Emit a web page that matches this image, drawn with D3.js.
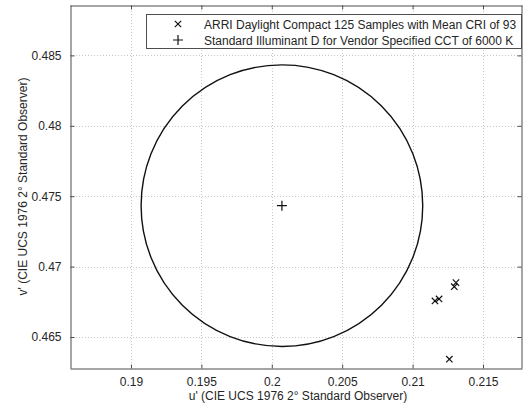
<!DOCTYPE html>
<html>
<head>
<meta charset="utf-8">
<script src="https://cdn.jsdelivr.net/npm/d3@7"></script>
<style>
  html, body { margin: 0; padding: 0; background: #fff; }
  svg { display: block; }
  text { font-family: "Liberation Sans", Arial, sans-serif; }
</style>
</head>
<body>
<svg id="chart" width="523" height="406"></svg>
<script>
// ---- data ----
const xTicks = [0.19, 0.195, 0.2, 0.205, 0.21, 0.215];
const xTickLabels = ["0.19", "0.195", "0.2", "0.205", "0.21", "0.215"];
const yTicks = [0.465, 0.47, 0.475, 0.48, 0.485];
const yTickLabels = ["0.465", "0.47", "0.475", "0.48", "0.485"];
const sampleU = [0.21159, 0.21188, 0.21296, 0.21308, 0.21261];
const sampleV = [0.46756, 0.46770, 0.46857, 0.46886, 0.46342];
const illumU = [0.20072];
const illumV = [0.47433];
const circleRadius = [0.0100];
const legendLabels = [
  "ARRI Daylight Compact 125 Samples with Mean CRI of 93",
  "Standard Illuminant D for Vendor Specified CCT of 6000 K"
];
const xLabel = "u' (CIE UCS 1976 2° Standard Observer)";
const yLabel = "v' (CIE UCS 1976 2° Standard Observer)";

// ---- layout ----
const L = 70, R = 522, T = 5, B = 368;
const svg = d3.select("#chart");
const x = d3.scaleLinear().domain([0.18567, 0.21777]).range([L, R]);
const y = d3.scaleLinear().domain([0.462798, 0.48858]).range([B, T]);

const frameColor = "#4d4d4d";
const textColor = "#262626";

// grid
const grid = svg.append("g");
grid.selectAll("line.gx").data(xTicks).enter().append("line")
  .attr("x1", d => Math.round(x(d)) + 0.5).attr("x2", d => Math.round(x(d)) + 0.5)
  .attr("y1", T).attr("y2", B)
  .attr("stroke", "#c8c8c8").attr("stroke-width", 1).attr("stroke-dasharray", "1,2");
grid.selectAll("line.gy").data(yTicks).enter().append("line")
  .attr("y1", d => Math.round(y(d)) + 0.5).attr("y2", d => Math.round(y(d)) + 0.5)
  .attr("x1", L).attr("x2", R)
  .attr("stroke", "#c8c8c8").attr("stroke-width", 1).attr("stroke-dasharray", "1,2");

// circle
svg.append("ellipse")
  .attr("cx", x(illumU[0])).attr("cy", y(illumV[0]))
  .attr("rx", x(illumU[0] + circleRadius[0]) - x(illumU[0]))
  .attr("ry", y(illumV[0]) - y(illumV[0] + circleRadius[0]))
  .attr("fill", "none").attr("stroke", "#111").attr("stroke-width", 1.4);

// markers
function crossPath(cx, cy, s) {
  return `M${cx - s},${cy - s}L${cx + s},${cy + s}M${cx - s},${cy + s}L${cx + s},${cy - s}`;
}
function plusPath(cx, cy, s) {
  return `M${cx - s},${cy}L${cx + s},${cy}M${cx},${cy - s}L${cx},${cy + s}`;
}
const samples = sampleU.map((u, i) => ({u, v: sampleV[i]}));
svg.selectAll("path.sample").data(samples).enter().append("path")
  .attr("d", d => crossPath(x(d.u), y(d.v), 3.2))
  .attr("stroke", "#111").attr("stroke-width", 1.2).attr("fill", "none");
const illum = illumU.map((u, i) => ({u, v: illumV[i]}));
svg.selectAll("path.illum").data(illum).enter().append("path")
  .attr("d", d => plusPath(x(d.u), y(d.v), 5))
  .attr("stroke", "#111").attr("stroke-width", 1.2).attr("fill", "none");

// axes frame
const axisG = svg.append("g");
const xAxisB = d3.axisBottom(x).tickValues(xTicks).tickFormat((d, i) => xTickLabels[i]).tickSizeInner(-4).tickSizeOuter(0).tickPadding(9);
const xAxisT = d3.axisTop(x).tickValues(xTicks).tickFormat("").tickSizeInner(-4).tickSizeOuter(0);
const yAxisL = d3.axisLeft(y).tickValues(yTicks).tickFormat((d, i) => yTickLabels[i]).tickSizeInner(-4).tickSizeOuter(0).tickPadding(9);
const yAxisR = d3.axisRight(y).tickValues(yTicks).tickFormat("").tickSizeInner(-4).tickSizeOuter(0);

function style(g) {
  g.selectAll(".domain").attr("stroke", frameColor).attr("stroke-width", 1);
  g.selectAll(".tick line").attr("stroke", frameColor);
  g.selectAll(".tick text").attr("fill", textColor).style("font-size", "12px").style("font-family", "'Liberation Sans', Arial, sans-serif");
}
axisG.append("g").attr("transform", `translate(0,${B + 0.5})`).call(xAxisB).call(style);
axisG.append("g").attr("transform", `translate(0,${T + 0.5})`).call(xAxisT).call(style);
axisG.append("g").attr("transform", `translate(${L + 0.5},0)`).call(yAxisL).call(style);
axisG.append("g").attr("transform", `translate(${R - 0.5},0)`).call(yAxisR).call(style);

// axis labels
svg.append("text").attr("x", (L + R) / 2 + 2).attr("y", 400)
  .attr("text-anchor", "middle").attr("fill", textColor).style("font-size", "12px").text(xLabel);
svg.append("text").attr("transform", `translate(27,${(T + B) / 2}) rotate(-90)`)
  .attr("text-anchor", "middle").attr("fill", textColor).style("font-size", "12px").text(yLabel);

// legend
const lg = svg.append("g");
lg.append("rect").attr("x", 146.5).attr("y", 14.5).attr("width", 375).attr("height", 34)
  .attr("fill", "#fff").attr("stroke", frameColor).attr("stroke-width", 1);
const legendRows = legendLabels.map((t, i) => ({t, i}));
lg.selectAll("path.lm").data(legendRows).enter().append("path")
  .attr("d", d => d.i === 0 ? crossPath(178, 24 + d.i * 16, 3.2) : plusPath(178, 24 + d.i * 16, 5))
  .attr("stroke", "#111").attr("stroke-width", 1.2).attr("fill", "none");
lg.selectAll("text.lt").data(legendRows).enter().append("text")
  .attr("x", 204).attr("y", d => 28.5 + d.i * 16)
  .attr("fill", textColor).style("font-size", "12px").text(d => d.t);
</script>
</body>
</html>
